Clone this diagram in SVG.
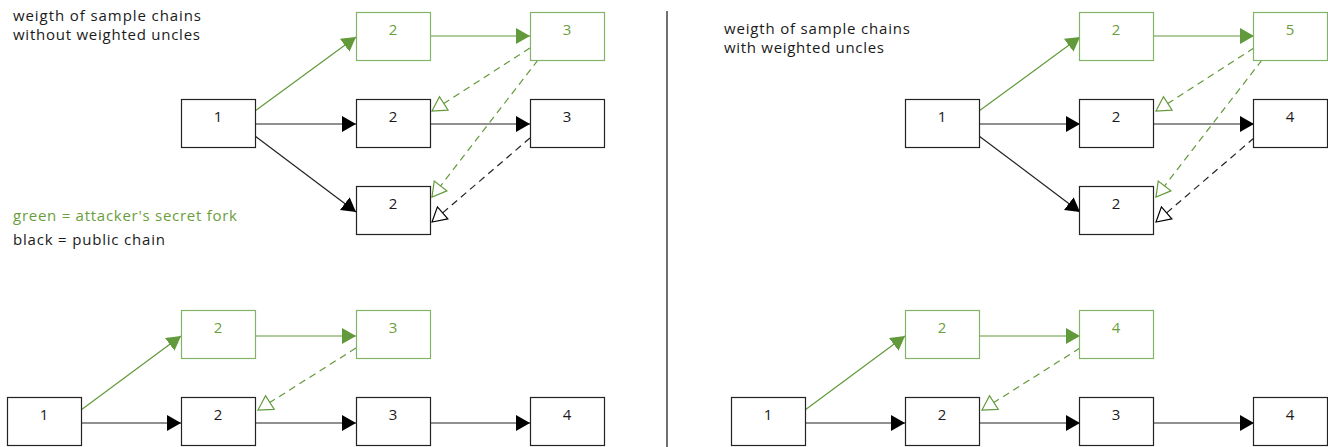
<svg xmlns="http://www.w3.org/2000/svg" width="1328" height="447" viewBox="0 0 1328 447">
<style>
text{font-family:"Open Sans","Noto Sans",sans-serif;font-size:15px;fill:#1a1a1a}
.lbl{text-anchor:middle}
.g{fill:#6a9e3c}
.box{fill:#fff;stroke:#222;stroke-width:1.2}
.gbox{fill:#fff;stroke:#82b366;stroke-width:1.2}
.k{stroke:#222;stroke-width:1.2;fill:none}
.gl{stroke:#62993a;stroke-width:1.2;fill:none}
.d{stroke-dasharray:7 5}
</style>
<defs>
<marker id="kf" markerUnits="userSpaceOnUse" markerWidth="16" markerHeight="18" refX="14" refY="8" orient="auto"><path d="M0,0 L14,8 L0,16 Z" fill="#000"/></marker>
<marker id="gf" markerUnits="userSpaceOnUse" markerWidth="16" markerHeight="18" refX="14" refY="8" orient="auto"><path d="M0,0 L14,8 L0,16 Z" fill="#62993a"/></marker>
<marker id="kh" markerUnits="userSpaceOnUse" markerWidth="18" markerHeight="20" refX="15" refY="9" orient="auto"><path d="M1,1 L15,9 L1,17 Z" fill="#fff" stroke="#000" stroke-width="1.2"/></marker>
<marker id="gh" markerUnits="userSpaceOnUse" markerWidth="18" markerHeight="20" refX="15" refY="9" orient="auto"><path d="M1,1 L15,9 L1,17 Z" fill="#fff" stroke="#62993a" stroke-width="1.2"/></marker>
</defs>
<rect width="1328" height="447" fill="#fff"/>
<line x1="667" y1="11" x2="667" y2="447" stroke="#111" stroke-width="1.2"/>
<text x="13" y="21" textLength="188" lengthAdjust="spacing">weigth of sample chains</text>
<text x="13" y="40" textLength="187" lengthAdjust="spacing">without weighted uncles</text>
<text x="724" y="34" textLength="186" lengthAdjust="spacing">weigth of sample chains</text>
<text x="724" y="53" textLength="160" lengthAdjust="spacing">with weighted uncles</text>
<text x="13" y="221" class="g" textLength="224" lengthAdjust="spacing">green = attacker's secret fork</text>
<text x="13" y="245" textLength="152" lengthAdjust="spacing">black = public chain</text>
<g id="connectors">
<line class="gl" x1="255" y1="111" x2="356" y2="37" marker-end="url(#gf)"/>
<line class="gl" x1="430" y1="36" x2="530" y2="36" marker-end="url(#gf)"/>
<line class="k" x1="255" y1="124" x2="356" y2="124" marker-end="url(#kf)"/>
<line class="k" x1="430" y1="124" x2="530" y2="124" marker-end="url(#kf)"/>
<line class="k" x1="255" y1="136" x2="356" y2="212" marker-end="url(#kf)"/>
<line class="gl d" x1="530" y1="48" x2="432" y2="111" marker-end="url(#gh)"/>
<line class="gl d" x1="538" y1="60" x2="432" y2="197" marker-end="url(#gh)"/>
<line class="k d" x1="530" y1="138" x2="432" y2="222" marker-end="url(#kh)"/>
<line class="gl" x1="979" y1="111" x2="1080" y2="37" marker-end="url(#gf)"/>
<line class="gl" x1="1154" y1="36" x2="1254" y2="36" marker-end="url(#gf)"/>
<line class="k" x1="979" y1="124" x2="1080" y2="124" marker-end="url(#kf)"/>
<line class="k" x1="1154" y1="124" x2="1254" y2="124" marker-end="url(#kf)"/>
<line class="k" x1="979" y1="136" x2="1080" y2="212" marker-end="url(#kf)"/>
<line class="gl d" x1="1254" y1="48" x2="1156" y2="111" marker-end="url(#gh)"/>
<line class="gl d" x1="1262" y1="60" x2="1156" y2="197" marker-end="url(#gh)"/>
<line class="k d" x1="1254" y1="138" x2="1156" y2="222" marker-end="url(#kh)"/>
<line class="gl" x1="81" y1="410" x2="181" y2="336" marker-end="url(#gf)"/>
<line class="gl" x1="255" y1="336" x2="356" y2="336" marker-end="url(#gf)"/>
<line class="k" x1="81" y1="423" x2="181" y2="423" marker-end="url(#kf)"/>
<line class="k" x1="255" y1="423" x2="356" y2="423" marker-end="url(#kf)"/>
<line class="k" x1="430" y1="423" x2="530" y2="423" marker-end="url(#kf)"/>
<line class="gl d" x1="356" y1="348" x2="258" y2="410" marker-end="url(#gh)"/>
<line class="gl" x1="805" y1="410" x2="905" y2="336" marker-end="url(#gf)"/>
<line class="gl" x1="979" y1="336" x2="1080" y2="336" marker-end="url(#gf)"/>
<line class="k" x1="805" y1="423" x2="905" y2="423" marker-end="url(#kf)"/>
<line class="k" x1="979" y1="423" x2="1080" y2="423" marker-end="url(#kf)"/>
<line class="k" x1="1154" y1="423" x2="1254" y2="423" marker-end="url(#kf)"/>
<line class="gl d" x1="1080" y1="348" x2="982" y2="410" marker-end="url(#gh)"/>
</g>
<g id="tl-g2"><rect class="gbox" x="356.5" y="12.5" width="74" height="48"/><text class="lbl g" x="393" y="35">2</text></g>
<g id="tl-g3"><rect class="gbox" x="530.5" y="12.5" width="74" height="48"/><text class="lbl g" x="567" y="35">3</text></g>
<g id="tl-1"><rect class="box" x="181.5" y="99.5" width="74" height="48"/><text class="lbl" x="218" y="122">1</text></g>
<g id="tl-2"><rect class="box" x="356.5" y="99.5" width="74" height="48"/><text class="lbl" x="393" y="122">2</text></g>
<g id="tl-3"><rect class="box" x="530.5" y="99.5" width="74" height="48"/><text class="lbl" x="567" y="122">3</text></g>
<g id="tl-2b"><rect class="box" x="356.5" y="186.5" width="74" height="48"/><text class="lbl" x="393" y="209">2</text></g>
<g id="tr-g2"><rect class="gbox" x="1079.5" y="12.5" width="74" height="48"/><text class="lbl g" x="1116" y="35">2</text></g>
<g id="tr-g5"><rect class="gbox" x="1253.5" y="12.5" width="74" height="48"/><text class="lbl g" x="1290" y="35">5</text></g>
<g id="tr-1"><rect class="box" x="905.5" y="99.5" width="74" height="48"/><text class="lbl" x="942" y="122">1</text></g>
<g id="tr-2"><rect class="box" x="1079.5" y="99.5" width="74" height="48"/><text class="lbl" x="1116" y="122">2</text></g>
<g id="tr-4"><rect class="box" x="1253.5" y="99.5" width="74" height="48"/><text class="lbl" x="1290" y="122">4</text></g>
<g id="tr-2b"><rect class="box" x="1079.5" y="186.5" width="74" height="48"/><text class="lbl" x="1116" y="209">2</text></g>
<g id="bl-g2"><rect class="gbox" x="181.5" y="310.5" width="74" height="48"/><text class="lbl g" x="218" y="333">2</text></g>
<g id="bl-g3"><rect class="gbox" x="356.5" y="310.5" width="74" height="48"/><text class="lbl g" x="393" y="333">3</text></g>
<g id="bl-1"><rect class="box" x="7.5" y="397.5" width="74" height="48"/><text class="lbl" x="44" y="420">1</text></g>
<g id="bl-2"><rect class="box" x="181.5" y="397.5" width="74" height="48"/><text class="lbl" x="218" y="420">2</text></g>
<g id="bl-3"><rect class="box" x="356.5" y="397.5" width="74" height="48"/><text class="lbl" x="393" y="420">3</text></g>
<g id="bl-4"><rect class="box" x="530.5" y="397.5" width="74" height="48"/><text class="lbl" x="567" y="420">4</text></g>
<g id="br-g2"><rect class="gbox" x="905.5" y="310.5" width="74" height="48"/><text class="lbl g" x="942" y="333">2</text></g>
<g id="br-g4"><rect class="gbox" x="1079.5" y="310.5" width="74" height="48"/><text class="lbl g" x="1116" y="333">4</text></g>
<g id="br-1"><rect class="box" x="731.5" y="397.5" width="74" height="48"/><text class="lbl" x="768" y="420">1</text></g>
<g id="br-2"><rect class="box" x="905.5" y="397.5" width="74" height="48"/><text class="lbl" x="942" y="420">2</text></g>
<g id="br-3"><rect class="box" x="1079.5" y="397.5" width="74" height="48"/><text class="lbl" x="1116" y="420">3</text></g>
<g id="br-4"><rect class="box" x="1253.5" y="397.5" width="74" height="48"/><text class="lbl" x="1290" y="420">4</text></g>
</svg>
